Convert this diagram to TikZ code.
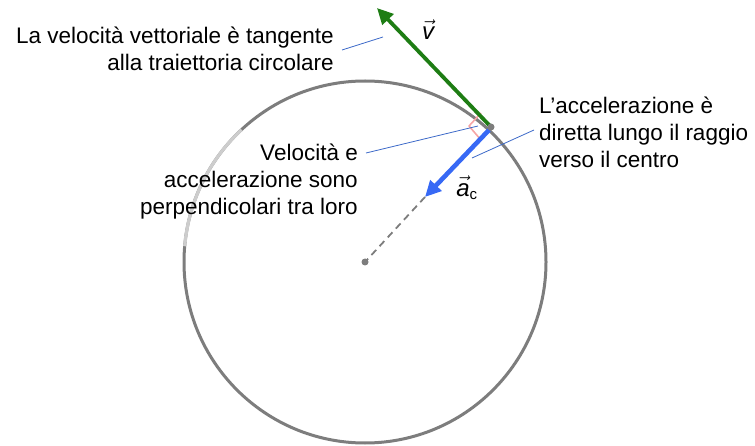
\documentclass[tikz,border=0pt]{standalone}
\usepackage{fontspec}
\setmainfont{Liberation Sans}
\usetikzlibrary{arrows.meta}
\definecolor{vgreen}{RGB}{30,125,20}
\definecolor{ablue}{RGB}{55,105,245}
\definecolor{leader}{RGB}{60,105,200}
\definecolor{circgray}{RGB}{125,125,125}
\definecolor{lightarc}{RGB}{205,205,205}
\definecolor{pinkmark}{RGB}{245,165,165}
\tikzset{
  lbl/.style={font=\fontsize{22.5}{27}\selectfont, inner sep=0pt, text=black},
  leadline/.style={draw=leader, line width=0.8pt},
  dotstyle/.style={fill=circgray, circle, inner sep=0pt, minimum size=8pt},
}
\begin{document}
\begin{tikzpicture}[x=1pt,y=-1pt]
\useasboundingbox (0,0) rectangle (755,446);
\coordinate (c) at (365,262);
\coordinate (p) at (491,127);
% circle
\draw[circgray, line width=3pt] (c) circle (181);
\draw[lightarc, line width=3.2pt] (c) ++(-133:181) arc[start angle=-133, end angle=-175, radius=181];
% dashed radius
\coordinate (aend) at (425,197);
\draw[circgray, line width=1.8pt, dash pattern=on 7pt off 5pt] (aend) -- (c);
\node[dotstyle, minimum size=7pt] (cdot) at (c) {};
% right angle mark
\draw[pinkmark, line width=1.6pt, line join=round] (481,113) -- (469,126) -- (481,140);
% velocity
\coordinate (vtip) at (377,8);
\draw[vgreen, line width=3.8pt, -{Triangle[length=16pt,width=15pt]}] (p) -- (vtip);
% acceleration
\draw[ablue, line width=4.6pt, -{Triangle[length=16pt,width=15pt]}] (489,130) -- (aend);
\node[dotstyle, minimum size=7pt] (pdot) at (p) {};
% vector labels
\node[font=\fontsize{24}{24}\selectfont, inner sep=0pt] (vlab) at (428,30) {$\vec{\textit{v}}$};
\node[font=\fontsize{24}{24}\selectfont, inner sep=0pt] (alab) at (467,188) {$\vec{\textit{a}}_{\mbox{\fontsize{15}{15}\selectfont c}}$};
% texts
\node[lbl, anchor=east, align=right] (t1) at (334,49) {La velocità vettoriale è tangente\\alla traiettoria circolare};
\node[lbl, anchor=east, align=right] (t2) at (358,182) {Velocità e\\accelerazione sono\\perpendicolari tra loro};
\node[lbl, anchor=west, align=left] (t3) at (539,132) {L’accelerazione è\\diretta lungo il raggio\\verso il centro};
% leaders
\coordinate (l1a) at (342,50); \coordinate (l1b) at (383,37);
\coordinate (l2a) at (366,153); \coordinate (l2b) at (478,126);
\coordinate (l3a) at (472,158); \coordinate (l3b) at (534,130);
\draw[leadline] (l1a) -- (l1b);
\draw[leadline] (l2a) -- (l2b);
\draw[leadline] (l3a) -- (l3b);
\end{tikzpicture}
\end{document}
